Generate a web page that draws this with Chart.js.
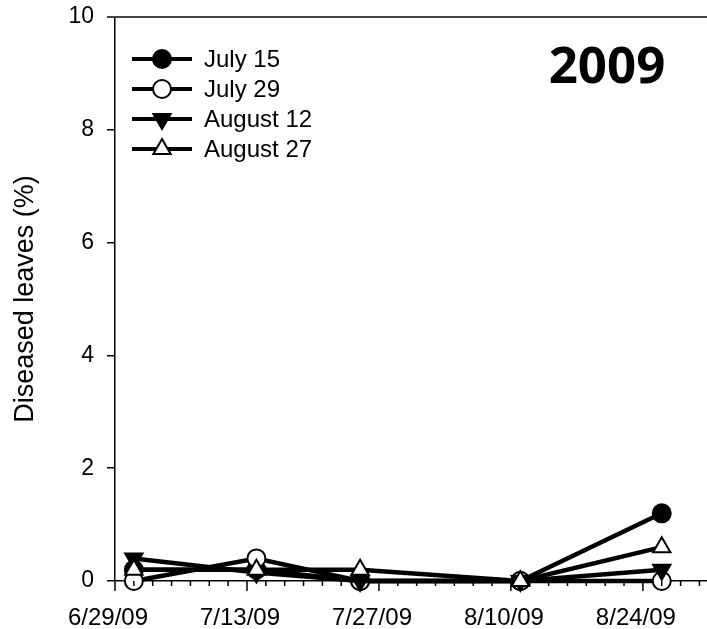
<!DOCTYPE html>
<html>
<head>
<meta charset="utf-8">
<script src="https://cdn.jsdelivr.net/npm/chart.js@4.4.0/dist/chart.umd.min.js"></script>
<style>
  html, body { margin: 0; padding: 0; background: #fff; }
  #wrap { width: 707px; height: 629px; }
</style>
</head>
<body>
<div id="wrap"><canvas id="grafico"></canvas></div>
<script>
// datas de amostragem (m/d/yy)
var datas = ["7/1/09", "7/14/09", "7/25/09", "8/11/09", "8/26/09"];
var july15 = [0.2, 0.2, 0, 0, 1.2];
var july29 = [0, 0.4, 0, 0, 0];
var august12 = [0.4, 0.15, 0, 0, 0.2];
var august27 = [0.2, 0.2, 0.2, 0, 0.6];
var nomesSeries = ["July 15", "July 29", "August 12", "August 27"];
var inicioEixo = "6/29/09";
var fimEixo = "8/31/09";
var ticksY = [0, 2, 4, 6, 8, 10];
var tituloY = "Diseased leaves (%)";
var anoTexto = "2009";

function diaNum(s) {
  var p = s.split("/");
  return Date.UTC(2000 + Number(p[2]), Number(p[0]) - 1, Number(p[1])) / 86400000;
}
var base = diaNum(inicioEixo);
var maxX = diaNum(fimEixo) - base - 0.2;

function formatarData(v) {
  var d = new Date((base + v) * 86400000);
  var ano = String(d.getUTCFullYear()).slice(2);
  return (d.getUTCMonth() + 1) + "/" + d.getUTCDate() + "/" + ano;
}

function pontos(valores) {
  var out = [];
  for (var i = 0; i < datas.length; i++) {
    out.push({ x: diaNum(datas[i]) - base, y: valores[i] });
  }
  return out;
}

var estilos = [
  { estilo: "circle", rot: 0, raio: 9, fundo: "#000", ordem: 4 },
  { estilo: "circle", rot: 0, raio: 9, fundo: "#fff", ordem: 3 },
  { estilo: "triangle", rot: 180, raio: 10, fundo: "#000", ordem: 2 },
  { estilo: "triangle", rot: 0, raio: 10, fundo: "#fff", ordem: 1 }
];
var series = [july15, july29, august12, august27];

var datasets = [];
for (var i = 0; i < series.length; i++) {
  datasets.push({
    label: nomesSeries[i],
    data: pontos(series[i]),
    borderColor: "#000",
    borderWidth: 4.5,
    tension: 0,
    clip: false,
    pointStyle: estilos[i].estilo,
    rotation: estilos[i].rot,
    pointRadius: estilos[i].raio,
    pointBackgroundColor: estilos[i].fundo,
    pointBorderColor: "#000",
    pointBorderWidth: 2,
    order: estilos[i].ordem
  });
}

function desenharMarcador(ctx, e, x, y) {
  ctx.beginPath();
  if (e.estilo === "circle") {
    ctx.arc(x, y, e.raio, 0, Math.PI * 2);
  } else {
    var a = e.rot * Math.PI / 180;
    for (var k = 0; k < 3; k++) {
      var ang = a + k * 2 * Math.PI / 3;
      var px = x + Math.sin(ang) * e.raio;
      var py = y - Math.cos(ang) * e.raio;
      if (k === 0) ctx.moveTo(px, py); else ctx.lineTo(px, py);
    }
    ctx.closePath();
  }
  ctx.fillStyle = e.fundo;
  ctx.fill();
  ctx.lineWidth = 2;
  ctx.strokeStyle = "#000";
  ctx.stroke();
}

var extras = {
  id: "extras",
  afterDraw: function (chart) {
    var ctx = chart.ctx;
    var area = chart.chartArea;
    var sx = chart.scales.x;
    ctx.save();
    // linha de cima
    ctx.strokeStyle = "#444";
    ctx.lineWidth = 2;
    ctx.beginPath();
    ctx.moveTo(area.left - 8, area.top);
    ctx.lineTo(area.right, area.top);
    ctx.stroke();
    // ticks do eixo x
    ctx.strokeStyle = "#000";
    ctx.lineWidth = 1.5;
    sx.ticks.forEach(function (t) {
      var px = sx.getPixelForValue(t.value);
      var comp = (t.value % 14 === 0) ? 10 : 5;
      ctx.beginPath();
      ctx.moveTo(px, area.bottom);
      ctx.lineTo(px, area.bottom + comp);
      ctx.stroke();
    });
    // legenda
    var y0 = 59;
    ctx.font = "24px 'Liberation Sans', Arial, sans-serif";
    ctx.textBaseline = "middle";
    ctx.textAlign = "left";
    for (var i = 0; i < chart.data.datasets.length; i++) {
      var y = y0 + i * 30;
      ctx.strokeStyle = "#000";
      ctx.lineWidth = 4;
      ctx.beginPath();
      ctx.moveTo(132, y);
      ctx.lineTo(192, y);
      ctx.stroke();
      desenharMarcador(ctx, estilos[i], 162, y);
      ctx.fillStyle = "#000";
      ctx.fillText(chart.data.datasets[i].label, 204, y + 1);
    }
    // ano
    ctx.font = "bold 51px 'Noto Sans', sans-serif";
    ctx.textAlign = "center";
    ctx.textBaseline = "alphabetic";
    ctx.fillText(anoTexto, 607, 83);
    ctx.restore();
  }
};

var config = {
  type: "line",
  data: { datasets: datasets },
  options: {
    responsive: true,
    maintainAspectRatio: false,
    animation: false,
    layout: { autoPadding: false, padding: { top: 17, right: 0, bottom: 0, left: 0 } },
    plugins: { legend: { display: false }, tooltip: { enabled: false } },
    scales: {
      x: {
        type: "linear",
        min: 0,
        max: maxX,
        afterBuildTicks: function (scale) {
          var t = [];
          for (var v = 0; v < maxX; v += 2) t.push({ value: v });
          scale.ticks = t;
        },
        afterFit: function (scale) {
          scale.height = 48;
          scale.paddingLeft = 0;
          scale.paddingRight = 0;
        },
        grid: { display: false },
        border: { display: true, color: "#000", width: 1.5 },
        ticks: {
          autoSkip: false,
          maxRotation: 0,
          padding: 15,
          labelOffset: -7,
          color: "#000",
          font: { family: "'Liberation Sans', Arial, sans-serif", size: 24 },
          callback: function (v) { return v % 14 === 0 ? formatarData(v) : ""; }
        }
      },
      y: {
        min: 0,
        max: 10,
        afterBuildTicks: function (scale) {
          scale.ticks = ticksY.map(function (v) { return { value: v }; });
        },
        afterFit: function (scale) {
          scale.width = 115;
          scale.paddingTop = 0;
          scale.paddingBottom = 0;
        },
        grid: { drawOnChartArea: false, tickLength: 8, color: "#000", lineWidth: 1.5 },
        border: { display: true, color: "#000", width: 1.5 },
        ticks: {
          padding: 13,
          color: "#000",
          font: { family: "'Liberation Sans', Arial, sans-serif", size: 23 }
        },
        title: {
          display: true,
          text: tituloY,
          color: "#000",
          padding: { top: 9, bottom: 0 },
          font: { family: "'Liberation Sans', Arial, sans-serif", size: 27 }
        }
      }
    }
  },
  plugins: [extras]
};

var grafico = new Chart(document.getElementById("grafico"), config);
</script>
</body>
</html>
